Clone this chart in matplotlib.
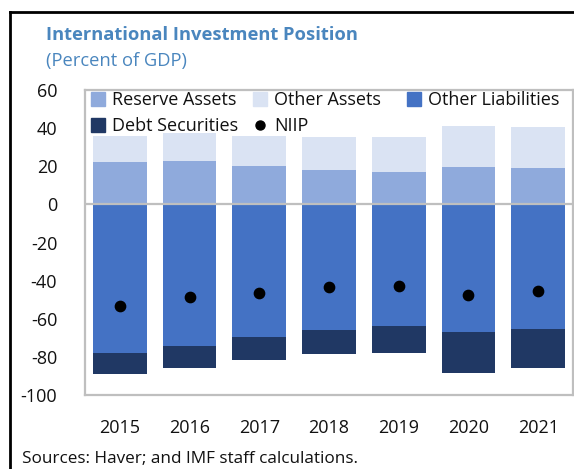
import matplotlib.pyplot as plt
from matplotlib.lines import Line2D
from matplotlib.patches import Patch
import numpy as np

plt.rcParams['font.family'] = ['Open Sans', 'DejaVu Sans']
plt.rcParams['axes.unicode_minus'] = False

years = ['2015', '2016', '2017', '2018', '2019', '2020', '2021']
reserve_assets = [22.2, 22.6, 20.1, 18.2, 17.0, 19.6, 19.3]
other_assets = [13.7, 14.8, 15.6, 17.1, 18.3, 21.5, 21.3]
other_liabilities = [-77.9, -74.2, -69.5, -66.1, -63.9, -66.7, -65.6]
debt_securities = [-11.3, -11.7, -12.2, -12.3, -14.3, -21.7, -20.3]
niip = [-53.5, -48.6, -46.4, -43.4, -43.0, -47.6, -45.3]

c_res = '#8FAADC'
c_oa = '#DAE3F3'
c_ol = '#4472C4'
c_debt = '#203864'
grey = '#BFBFBF'
fs = 13

fig = plt.figure(figsize=(5.74, 4.69), dpi=100)
ax = fig.add_axes([85/574, 1 - 395/469, 488/574, 305/469])

x = np.arange(len(years))
w = 0.77
ax.bar(x, reserve_assets, w, color=c_res, zorder=2)
ax.bar(x, other_assets, w, bottom=reserve_assets, color=c_oa, zorder=2)
ax.bar(x, other_liabilities, w, color=c_ol, zorder=2)
ax.bar(x, debt_securities, w, bottom=other_liabilities, color=c_debt, zorder=2)
ax.scatter(x, niip, s=55, color='black', zorder=4)

ax.axhline(0, color=grey, lw=1.6, zorder=3)
ax.set_xlim(-0.5, 6.5)
ax.set_ylim(-100, 60)
ax.set_yticks(range(-100, 61, 20))
ax.set_xticks(x)
ax.set_xticklabels(years)
ax.tick_params(length=0, labelsize=fs, colors='#111111')
ax.tick_params(axis='y', pad=20)
ax.tick_params(axis='x', pad=17)
for s in ax.spines.values():
    s.set_color(grey)
    s.set_linewidth(1.6)

# legend in three single-column groups so the columns sit where the original has them
groups = [
    ([Patch(color=c_res), Patch(color=c_debt)], ['Reserve Assets', 'Debt Securities'], 91),
    ([Patch(color=c_oa), Line2D([], [], marker='o', color='black', ls='', markersize=6.5)],
     ['Other Assets', 'NIIP'], 253),
    ([Patch(color=c_ol)], ['Other Liabilities'], 407),
]
for h, l, xpos in groups:
    leg = fig.legend(h, l, loc='upper left', bbox_to_anchor=(xpos/574, 1 - 91/469),
                     frameon=False, fontsize=fs, handlelength=0.8, handleheight=0.8,
                     handletextpad=0.35, labelspacing=0.45, borderpad=0.0,
                     borderaxespad=0)
    for t in leg.get_texts():
        t.set_color('#111111')

fig.text(46/574, 1 - 35/469, 'International Investment Position', color='#4A86BE',
         fontsize=13.2, fontweight='bold', va='center')
fig.text(46/574, 1 - 61/469, '(Percent of GDP)', color='#4A86BE',
         fontsize=13.2, va='center')
fig.text(22/574, 1 - 459/469, 'Sources: Haver; and IMF staff calculations.',
         fontsize=12.3, va='center', color='#111111')

# outer black frame
fig.add_artist(Line2D([10/574, 10/574], [0, 1 - 12/469], color='black', lw=2))
fig.add_artist(Line2D([10/574, 1], [1 - 12/469, 1 - 12/469], color='black', lw=2))

fig.savefig('out.png', dpi=100)
